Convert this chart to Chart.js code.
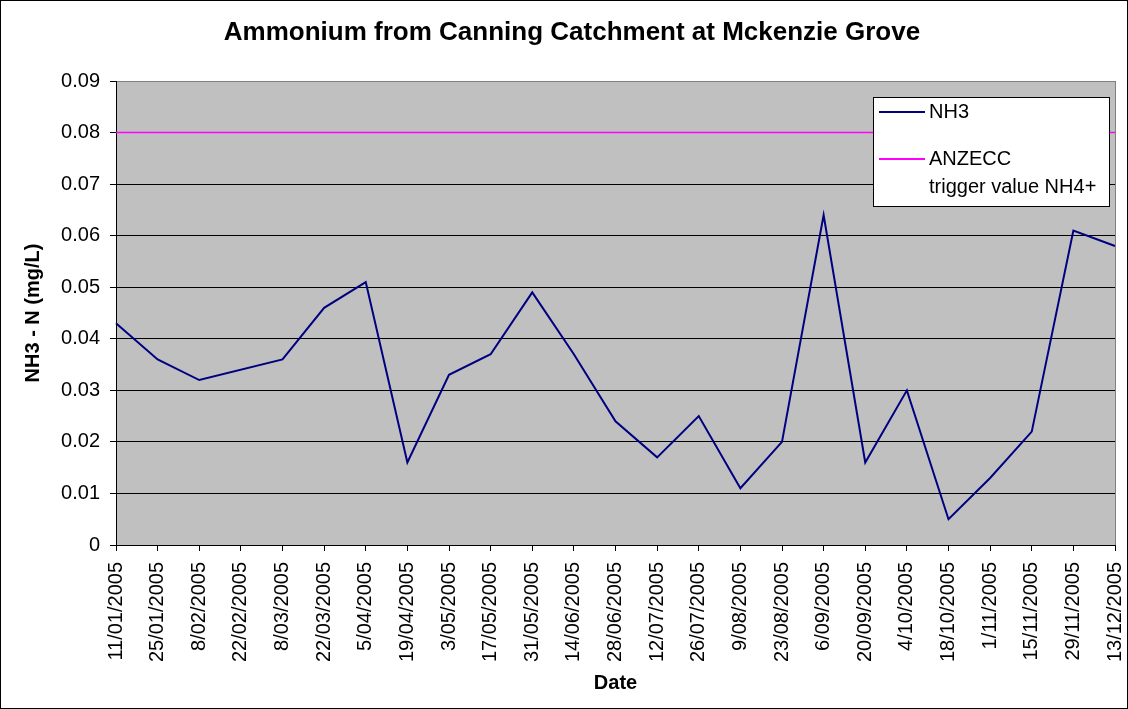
<!DOCTYPE html>
<html>
<head>
<meta charset="utf-8">
<script src="https://cdn.jsdelivr.net/npm/chart.js@4.4.1/dist/chart.umd.min.js"></script>
<style>
  html, body { margin: 0; padding: 0; background: #ffffff; }
  canvas { display: block; }
</style>
</head>
<body>
<canvas id="chart" width="1128" height="709"></canvas>
<script>
// ---- Data ----
const categories = [
  '11/01/2005', '25/01/2005', '8/02/2005', '22/02/2005', '8/03/2005',
  '22/03/2005', '5/04/2005', '19/04/2005', '3/05/2005', '17/05/2005',
  '31/05/2005', '14/06/2005', '28/06/2005', '12/07/2005', '26/07/2005',
  '9/08/2005', '23/08/2005', '6/09/2005', '20/09/2005', '4/10/2005',
  '18/10/2005', '1/11/2005', '15/11/2005', '29/11/2005', '13/12/2005'
];
const nh3Values = [
  0.043, 0.036, 0.032, null, 0.036,
  0.046, 0.051, 0.016, 0.033, 0.037,
  0.049, 0.037, 0.024, 0.017, 0.025,
  0.011, 0.020, 0.064, 0.016, 0.030,
  0.005, 0.013, 0.022, 0.061, 0.058
];
const triggerValues = [
  0.08, 0.08, 0.08, 0.08, 0.08,
  0.08, 0.08, 0.08, 0.08, 0.08,
  0.08, 0.08, 0.08, 0.08, 0.08,
  0.08, 0.08, 0.08, 0.08, 0.08,
  0.08, 0.08, 0.08, 0.08, 0.08
];
const seriesNames = ['NH3', ['ANZECC', 'trigger value NH4+']];
const yMin = 0, yMax = 0.09, yStep = 0.01;
const chartTitle = 'Ammonium from Canning Catchment at Mckenzie Grove';
const xTitle = 'Date';
const yTitle = 'NH3 - N (mg/L)';

// ---- Styles ----
const FONT = '"Liberation Sans", Arial, Helvetica, sans-serif';
const NAVY = '#000080';
const MAGENTA = '#FF00FF';
Chart.defaults.color = '#000000';
Chart.defaults.font.family = FONT;

const frameAndBackground = {
  id: 'frameAndBackground',
  beforeDraw(chart) {
    const { ctx, chartArea: a, width, height } = chart;
    ctx.save();
    ctx.fillStyle = '#ffffff';
    ctx.fillRect(0, 0, width, height);
    ctx.fillStyle = '#C0C0C0';
    ctx.fillRect(a.left, a.top, a.right - a.left, a.bottom - a.top);
    ctx.restore();
  },
  afterDraw(chart) {
    const { ctx, chartArea: a, width, height } = chart;
    ctx.save();
    ctx.strokeStyle = '#808080';
    ctx.lineWidth = 1;
    ctx.beginPath();
    ctx.moveTo(Math.round(a.right) + 0.5, a.top);
    ctx.lineTo(Math.round(a.right) + 0.5, a.bottom);
    ctx.stroke();
    ctx.strokeStyle = '#000000';
    ctx.strokeRect(0.5, 0.5, width - 1, height - 1);
    // chart title
    ctx.fillStyle = '#000000';
    ctx.font = 'bold 26px ' + FONT;
    ctx.textAlign = 'center';
    ctx.textBaseline = 'middle';
    ctx.fillText(chartTitle, 572, 33);
    ctx.restore();
  }
};

const boxLegend = {
  id: 'boxLegend',
  afterDraw(chart) {
    const { ctx } = chart;
    const x0 = 873, y0 = 97, w = 236, h = 109;
    ctx.save();
    ctx.fillStyle = '#ffffff';
    ctx.fillRect(x0, y0, w, h);
    ctx.strokeStyle = '#000000';
    ctx.lineWidth = 1;
    ctx.strokeRect(x0 + 0.5, y0 + 0.5, w, h);
    const ds = chart.data.datasets;
    const rows = [
      { color: ds[0].borderColor, lines: [].concat(seriesNames[0]), y: 112 },
      { color: ds[1].borderColor, lines: [].concat(seriesNames[1]), y: 159 }
    ];
    ctx.font = '20px ' + FONT;
    ctx.textBaseline = 'middle';
    ctx.textAlign = 'left';
    rows.forEach(r => {
      ctx.strokeStyle = r.color;
      ctx.lineWidth = 2;
      ctx.beginPath();
      ctx.moveTo(879, r.y);
      ctx.lineTo(925, r.y);
      ctx.stroke();
      ctx.fillStyle = '#000000';
      r.lines.forEach((t, i) => ctx.fillText(t, 929, r.y + i * 28));
    });
    ctx.restore();
  }
};

new Chart(document.getElementById('chart'), {
  type: 'line',
  data: {
    labels: categories,
    datasets: [
      {
        label: 'NH3',
        data: nh3Values,
        borderColor: NAVY,
        backgroundColor: NAVY,
        borderWidth: 2,
        pointRadius: 0,
        tension: 0,
        spanGaps: true
      },
      {
        label: 'ANZECC trigger value NH4+',
        data: triggerValues,
        borderColor: MAGENTA,
        backgroundColor: MAGENTA,
        borderWidth: 1.5,
        pointRadius: 0,
        tension: 0
      }
    ]
  },
  options: {
    responsive: false,
    animation: false,
    devicePixelRatio: 1,
    layout: { padding: { left: 0, right: 13, top: 81, bottom: 0 } },
    plugins: {
      legend: { display: false },
      tooltip: { enabled: false },
      title: { display: false }
    },
    scales: {
      x: {
        type: 'category',
        offset: false,
        afterFit(scale) {
          scale.height = 164;
          scale.paddingRight = 0;
          scale.paddingLeft = 0;
        },
        border: { display: true, color: '#000000', width: 1 },
        grid: {
          drawOnChartArea: false,
          drawTicks: true,
          tickLength: 6,
          tickColor: '#000000'
        },
        ticks: {
          autoSkip: false,
          maxRotation: 90,
          minRotation: 90,
          padding: 11,
          color: '#000000',
          font: { size: 20, family: FONT }
        },
        title: {
          display: true,
          text: xTitle,
          color: '#000000',
          font: { size: 20, weight: 'bold', family: FONT },
          padding: { top: 0, bottom: 14 }
        }
      },
      y: {
        min: yMin,
        max: yMax,
        afterFit(scale) {
          scale.width = 116;
          scale.paddingTop = 0;
          scale.paddingBottom = 0;
        },
        border: { display: true, color: '#000000', width: 1 },
        grid: {
          color: ctx => (ctx.tick && Math.abs(ctx.tick.value - yMax) < 1e-9) ? '#808080' : '#000000',
          lineWidth: 1,
          drawTicks: true,
          tickLength: 6,
          tickColor: '#000000'
        },
        ticks: {
          stepSize: yStep,
          padding: 10,
          color: '#000000',
          font: { size: 20, family: FONT },
          callback: v => (Math.abs(v) < 1e-9 ? '0' : Number(v).toFixed(2))
        },
        title: {
          display: true,
          text: yTitle,
          color: '#000000',
          font: { size: 20, weight: 'bold', family: FONT },
          padding: { top: 21, bottom: 0 }
        }
      }
    }
  },
  plugins: [frameAndBackground, boxLegend]
});
</script>
</body>
</html>
